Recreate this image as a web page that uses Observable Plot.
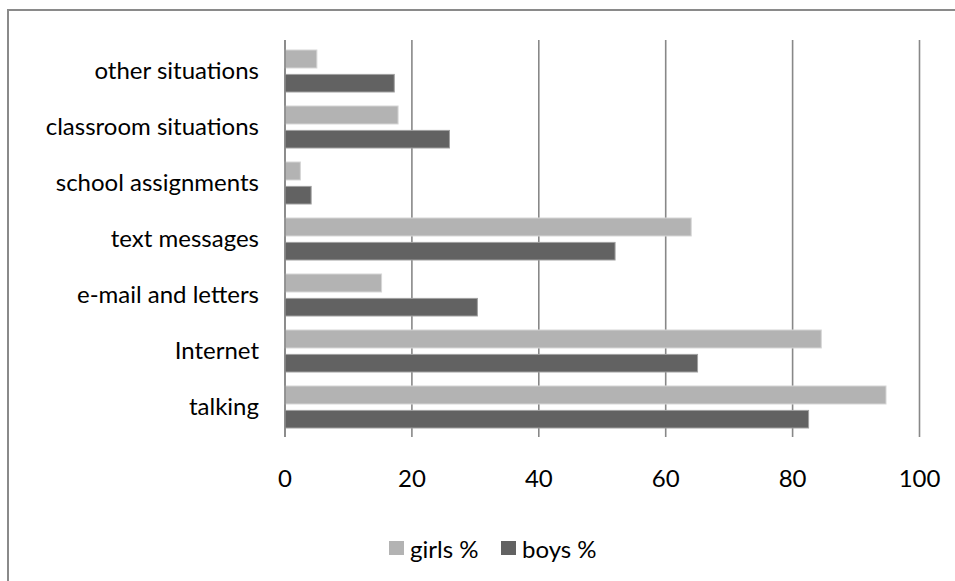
<!DOCTYPE html>
<html>
<head>
<meta charset="utf-8">
<script src="https://cdn.jsdelivr.net/npm/d3@7"></script>
<script src="https://cdn.jsdelivr.net/npm/@observablehq/plot@0.6"></script>
<style>
  html, body { margin: 0; padding: 0; background: #fff; }
  #wrap { position: relative; width: 955px; height: 581px; overflow: hidden; font-family: Lato, sans-serif; }
  #frame { position: absolute; left: 7px; top: 9px; width: 1000px; height: 700px; border-left: 2.5px solid #8a8a8a; border-top: 2.5px solid #8a8a8a; box-sizing: border-box; }
  #chart { position: absolute; left: 0; top: 0; }
  .legend { position: absolute; top: 534px; left: 0; width: 955px; height: 28px; font-size: 24px; color: #000; }
  .item { position: absolute; top: 0; display: flex; align-items: center; height: 28px; }
  .sw { width: 15px; height: 14px; margin-right: 6px; }
</style>
</head>
<body>
<div id="wrap">
  <div id="frame"></div>
  <div id="chart"></div>
  <div class="legend" id="legend"></div>
</div>
<script>
const categories = ["talking", "Internet", "e-mail and letters", "text messages", "school assignments", "classroom situations", "other situations"];
const girls = [94.8, 84.6, 15.3, 64.1, 2.5, 17.9, 5.1];
const boys  = [82.6, 65.1, 30.4, 52.1, 4.2, 26.0, 17.3];
const xTicks = [0, 20, 40, 60, 80, 100];
const seriesNames = ["girls %", "boys %"];
const seriesColors = ["#b3b3b3", "#626262"];

const rows = categories.map((c, i) => ({category: c, girls: girls[i], boys: boys[i]}));
const yDomain = categories.slice().reverse();

const W = 955, H = 500;
const mTop = 40, mBottom = H - 437;
const band = (437 - 40) / categories.length;
const barH = 18.7, outer = 7, gap = 5.7;

const chart = Plot.plot({
  width: W,
  height: H,
  marginLeft: 284.5,
  marginRight: 36,
  marginTop: mTop,
  marginBottom: mBottom,
  style: {fontFamily: "Lato, sans-serif", fontSize: "24px", color: "#000", background: "transparent", overflow: "visible"},
  x: {domain: [0, 100], ticks: xTicks, tickSize: 0, tickPadding: 32, label: null},
  y: {domain: yDomain, padding: 0, tickSize: 0, tickPadding: 26, label: null},
  marks: [
    Plot.ruleX(xTicks, {stroke: "#888", strokeWidth: 1.6}),
    Plot.barX(rows, {x: "girls", y: "category", fill: seriesColors[0], stroke: "#d6d6d6", strokeWidth: 1,
      insetTop: outer, insetBottom: band - outer - barH}),
    Plot.barX(rows, {x: "boys", y: "category", fill: seriesColors[1], stroke: "#a0a0a0", strokeWidth: 1,
      insetTop: outer + barH + gap, insetBottom: outer}),
    Plot.ruleX([0], {stroke: "#888", strokeWidth: 1.6})
  ]
});
document.getElementById("chart").appendChild(chart);

const legend = document.getElementById("legend");
const lx = [389, 501];
seriesNames.forEach((n, i) => {
  const item = document.createElement("div");
  item.className = "item";
  item.style.left = lx[i] + "px";
  const sw = document.createElement("div");
  sw.className = "sw";
  sw.style.background = seriesColors[i];
  const t = document.createElement("span");
  t.textContent = n;
  item.appendChild(sw);
  item.appendChild(t);
  legend.appendChild(item);
});
</script>
</body>
</html>
